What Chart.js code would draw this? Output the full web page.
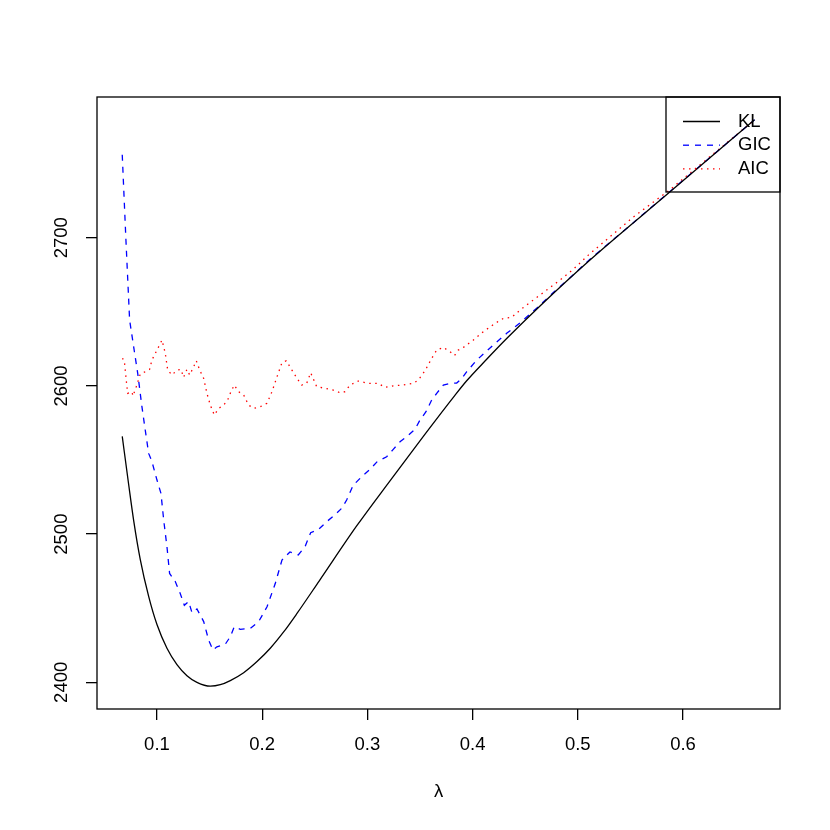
<!DOCTYPE html>
<html><head><meta charset="utf-8">
<script src="https://cdn.jsdelivr.net/npm/chart.js@4/dist/chart.umd.min.js"></script>
<style>html,body{margin:0;padding:0;background:#fff}#wrap{width:830px;height:830px}</style>
</head><body><div id="wrap"><canvas id="c" width="830" height="830"></canvas></div>
<script>
// ---- data ----
const seriesNames = ['KL', 'GIC', 'AIC'];
const xAxisTitle = 'λ';
const xTickValues = [0.1, 0.2, 0.3, 0.4, 0.5, 0.6];
const xTickLabels = ['0.1', '0.2', '0.3', '0.4', '0.5', '0.6'];
const yTickValues = [2400, 2500, 2600, 2700];
const yTickLabels = ['2400', '2500', '2600', '2700'];

const klLambda = [0.067,0.073,0.0779,0.0841,0.0921,0.1,0.1095,0.119,0.1285,0.138,0.1507,0.1602,0.1697,0.1824,0.1951,0.2077,0.2204,0.2331,0.2543,0.2898,0.3215,0.3532,0.383,0.3944,0.4134,0.4324,0.4641,0.5116,0.5877,0.668];
const klValues = [2566,2534,2509,2483,2458,2439,2423,2412,2404.5,2400,2397.4,2398.4,2401.2,2406.5,2414,2423,2434,2446.5,2468.5,2505.5,2536,2566,2593.5,2603.5,2618,2632,2654,2685,2731,2779.6];

const gicLambda = [0.067,0.0705,0.074,0.0788,0.0817,0.0857,0.0889,0.0921,0.0952,0.1,0.1038,0.1064,0.1095,0.112,0.1174,0.1221,0.126,0.1301,0.1333,0.138,0.1444,0.1491,0.1532,0.157,0.165,0.1697,0.1735,0.1792,0.1887,0.1967,0.2046,0.2125,0.2188,0.2264,0.2343,0.2407,0.2461,0.2533,0.2613,0.2692,0.2755,0.2803,0.2865,0.2945,0.3025,0.3094,0.3183,0.3246,0.331,0.3373,0.3452,0.35,0.3557,0.3611,0.3659,0.3722,0.3785,0.3849,0.3896,0.3943,0.404,0.4197,0.4324,0.4467,0.4609,0.4767,0.4926,0.5116,0.55,0.5877,0.668];
const gicValues = [2756,2698.5,2644.5,2622,2608.5,2586,2570,2554.5,2549,2536.5,2527.5,2509.5,2491.5,2473.5,2468,2460,2452,2454.5,2447,2449.5,2441,2428.5,2421.8,2424,2425.8,2430.8,2437.5,2435.8,2436.4,2441,2451,2466.8,2482.5,2488,2486,2491.5,2501,2503,2508.4,2513,2517.4,2523,2533,2538.7,2543.7,2549,2552.2,2557.2,2562.3,2565.7,2570.7,2577,2582.6,2590.5,2595,2600.6,2601.8,2602,2605,2609.5,2617.5,2627.6,2635.5,2643.5,2652.5,2663,2673,2685.5,2708.5,2731.3,2779.6];

const aicLambda = [0.067,0.0689,0.0708,0.0721,0.0762,0.0772,0.0803,0.0841,0.0889,0.093,0.0952,0.1,0.1048,0.1079,0.1102,0.1143,0.119,0.1228,0.1253,0.1285,0.1311,0.1349,0.1374,0.1406,0.1444,0.1475,0.1507,0.1545,0.1587,0.1634,0.1672,0.1703,0.1735,0.1776,0.1824,0.1871,0.1919,0.1982,0.2046,0.2093,0.2141,0.2188,0.2229,0.2283,0.2331,0.2375,0.2423,0.2461,0.2518,0.2597,0.2676,0.274,0.2787,0.2835,0.2913,0.3008,0.3103,0.3167,0.3246,0.3341,0.3437,0.3484,0.3548,0.3611,0.3659,0.3722,0.3785,0.3828,0.3864,0.3912,0.4007,0.4102,0.4213,0.4292,0.4372,0.4451,0.4577,0.4704,0.4831,0.4957,0.51,0.5528,0.5877,0.668];
const aicValues = [2618.6,2617.5,2604,2595,2596,2593.2,2599.5,2608,2609.6,2611.2,2617.5,2624.2,2631,2622,2610.7,2607.4,2610.7,2611.2,2605.8,2611.2,2607.4,2613,2617,2610.7,2605.1,2595,2587.1,2580.4,2584.9,2587.1,2590.5,2596.1,2600.6,2596.1,2593.9,2587.1,2584.9,2586,2588.3,2596.1,2606.2,2615.7,2617,2610.7,2605.1,2600.6,2601.8,2608.9,2599.5,2598.4,2597.2,2595.4,2596.1,2600.6,2603.3,2601.8,2601.8,2599,2600.1,2600.6,2601.8,2604,2610.3,2618.6,2624.2,2626,2623.1,2620.5,2624.2,2626,2631,2636.6,2642.2,2645.6,2646.3,2651.2,2658,2664.7,2671.5,2678.7,2688.3,2714,2732.5,2779.6];

// ---- chart ----
const FONT = '"Liberation Sans", Arial, Helvetica, sans-serif';
const FSIZE = 18.5;
function pts(xs, ys) { return xs.map((x, i) => ({ x: x, y: ys[i] })); }

const rPlot = {
  id: 'rPlot',
  afterDraw(chart) {
    const ctx = chart.ctx, a = chart.chartArea;
    ctx.save();
    // plot box
    ctx.strokeStyle = '#000'; ctx.lineWidth = 1.3; ctx.setLineDash([]);
    ctx.strokeRect(a.left, a.top, a.right - a.left, a.bottom - a.top);
    // rotated y tick labels
    const ys = chart.scales.y;
    ctx.fillStyle = '#000';
    ctx.font = FSIZE + 'px ' + FONT;
    ctx.textAlign = 'center'; ctx.textBaseline = 'middle';
    yTickValues.forEach((v, i) => {
      const py = ys.getPixelForValue(v);
      ctx.save(); ctx.translate(a.left - 35.5, py); ctx.rotate(-Math.PI / 2);
      ctx.fillText(yTickLabels[i], 0, 0); ctx.restore();
    });
    // legend (top right, inside)
    const bw = 114, bh = 95;
    const bx = a.right - bw, by = a.top;
    ctx.strokeRect(bx, by, bw, bh);
    ctx.textAlign = 'left';
    chart.data.datasets.forEach((ds, i) => {
      const ry = by + 24.5 + i * 23.7;
      ctx.beginPath();
      ctx.strokeStyle = ds.borderColor; ctx.lineWidth = ds.borderWidth;
      ctx.setLineDash(ds.borderDash || []);
      ctx.moveTo(bx + 17, ry); ctx.lineTo(bx + 54, ry); ctx.stroke();
      ctx.setLineDash([]);
      ctx.fillStyle = '#000';
      ctx.fillText(ds.label, bx + 72, ry);
    });
    ctx.restore();
  }
};

const gridOpts = { display: true, drawOnChartArea: false, drawTicks: true, tickLength: 11, color: '#000', lineWidth: 1.3 };

new Chart(document.getElementById('c'), {
  type: 'line',
  data: {
    datasets: [
      { label: seriesNames[0], data: pts(klLambda, klValues), borderColor: '#000000', borderWidth: 1.3, pointRadius: 0, cubicInterpolationMode: 'monotone', fill: false },
      { label: seriesNames[1], data: pts(gicLambda, gicValues), borderColor: '#0000ff', borderWidth: 1.3, borderDash: [6, 6], pointRadius: 0, tension: 0, fill: false },
      { label: seriesNames[2], data: pts(aicLambda, aicValues), borderColor: '#ff0000', borderWidth: 1.3, borderDash: [1.5, 4.5], pointRadius: 0, tension: 0, fill: false }
    ]
  },
  options: {
    responsive: false, animation: false, devicePixelRatio: 1,
    layout: { padding: { top: 97, right: 50, left: 0, bottom: 0 } },
    plugins: { legend: { display: false }, tooltip: { enabled: false } },
    scales: {
      x: {
        type: 'linear', min: 0.043, max: 0.6922,
        afterBuildTicks: s => { s.ticks = xTickValues.map(v => ({ value: v })); },
        afterFit: s => { s.height = 121; },
        grid: gridOpts, border: { display: false },
        ticks: { font: { family: FONT, size: FSIZE }, color: '#000', padding: 14, maxRotation: 0, autoSkip: false,
                 callback: (v) => xTickLabels[xTickValues.indexOf(v)] },
        title: { display: true, text: xAxisTitle, color: '#000', font: { family: FONT, size: FSIZE }, padding: { top: 0, bottom: 27 } }
      },
      y: {
        type: 'linear', min: 2382, max: 2795,
        afterBuildTicks: s => { s.ticks = yTickValues.map(v => ({ value: v })); },
        afterFit: s => { s.width = 97; },
        grid: gridOpts, border: { display: false },
        ticks: { display: false }
      }
    }
  },
  plugins: [rPlot]
});
</script>
</body></html>
